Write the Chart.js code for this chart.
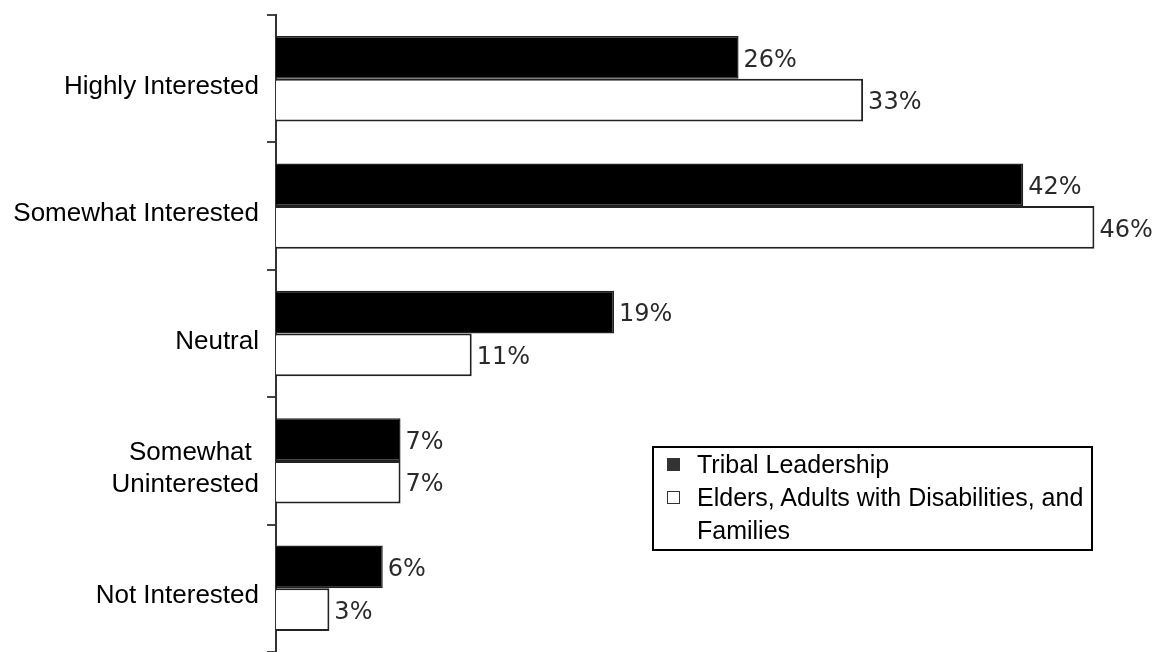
<!DOCTYPE html>
<html>
<head>
<meta charset="utf-8">
<script src="https://cdn.jsdelivr.net/npm/chart.js@4"></script>
<style>
  body { margin: 0; background: #fff; }
  #wrap { position: relative; width: 1154px; height: 652px; }
  #legend {
    position: absolute; left: 652px; top: 446px; width: 437px; height: 101px;
    border: 2px solid #000; font: 25px "Liberation Sans", Arial, sans-serif; color: #000;
  }
  .item { position: relative; padding-left: 43px; line-height: 33px; }
  .item .sw { position: absolute; left: 13px; top: 10px; width: 11px; height: 11px; border: 1px solid #333; }
</style>
</head>
<body>
<div id="wrap">
  <canvas id="myChart" width="1154" height="652"></canvas>
  <div id="legend"></div>
</div>
<script>
const categories = ['Highly Interested', 'Somewhat Interested', 'Neutral', ['Somewhat ', 'Uninterested'], 'Not Interested'];
const seriesNames = ['Tribal Leadership', 'Elders, Adults with Disabilities, and Families'];
const tribalLeadership = [26, 42, 19, 7, 6];
const eldersFamilies = [33, 46, 11, 7, 3];
const seriesColors = ['#000000', '#ffffff'];

// draws the "26%" style labels at the end of each bar
const valueLabels = {
  id: 'valueLabels',
  afterDatasetsDraw(chart) {
    const ctx = chart.ctx;
    ctx.save();
    ctx.font = '24px "DejaVu Sans", sans-serif';
    ctx.fillStyle = '#2a2a2a';
    ctx.textBaseline = 'middle';
    ctx.textAlign = 'left';
    chart.data.datasets.forEach((ds, i) => {
      chart.getDatasetMeta(i).data.forEach((bar, j) => {
        ctx.fillText(ds.data[j] + '%', bar.x + 5, bar.y + 3);
      });
    });
    ctx.restore();
  }
};

const renderChart = () => {
  const ctx = document.getElementById('myChart').getContext('2d');
  new Chart(ctx, {
    type: 'bar',
    data: {
      labels: categories,
      datasets: [
        {
          label: seriesNames[0],
          data: tribalLeadership,
          backgroundColor: seriesColors[0],
          borderColor: '#222',
          borderWidth: 1.5,
        },
        {
          label: seriesNames[1],
          data: eldersFamilies,
          backgroundColor: seriesColors[1],
          borderColor: '#222',
          borderWidth: 2,
        },
      ],
    },
    options: {
      indexAxis: 'y',
      responsive: false,
      animation: false,
      layout: { padding: { top: 15, bottom: 0, left: 0, right: 0 } },
      datasets: { bar: { barPercentage: 1, categoryPercentage: 0.67 } },
      plugins: { legend: { display: false }, tooltip: { enabled: false } },
      scales: {
        x: { display: false, min: 0, max: 49.35 },
        y: {
          afterFit: (scale) => {
            scale.width = 276;
            scale.paddingTop = 0;
            scale.paddingBottom = 0;
          },
          border: { color: '#333', width: 2 },
          grid: { drawOnChartArea: false, tickLength: 9, color: '#444', lineWidth: 2 },
          ticks: {
            color: '#000',
            padding: 8,
            labelOffset: 8,
            font: { family: '"Liberation Sans", Arial', size: 26, lineHeight: 1.25 },
          },
        },
      },
    },
    plugins: [valueLabels],
  });

  const legend = document.getElementById('legend');
  seriesNames.forEach((name, i) => {
    const div = document.createElement('div');
    div.className = 'item';
    div.innerHTML = '<span class="sw" style="background:' + (i === 0 ? '#333' : '#fff') + '"></span>';
    div.appendChild(document.createTextNode(name));
    legend.appendChild(div);
  });
};

document.addEventListener('DOMContentLoaded', renderChart);
</script>
</body>
</html>
